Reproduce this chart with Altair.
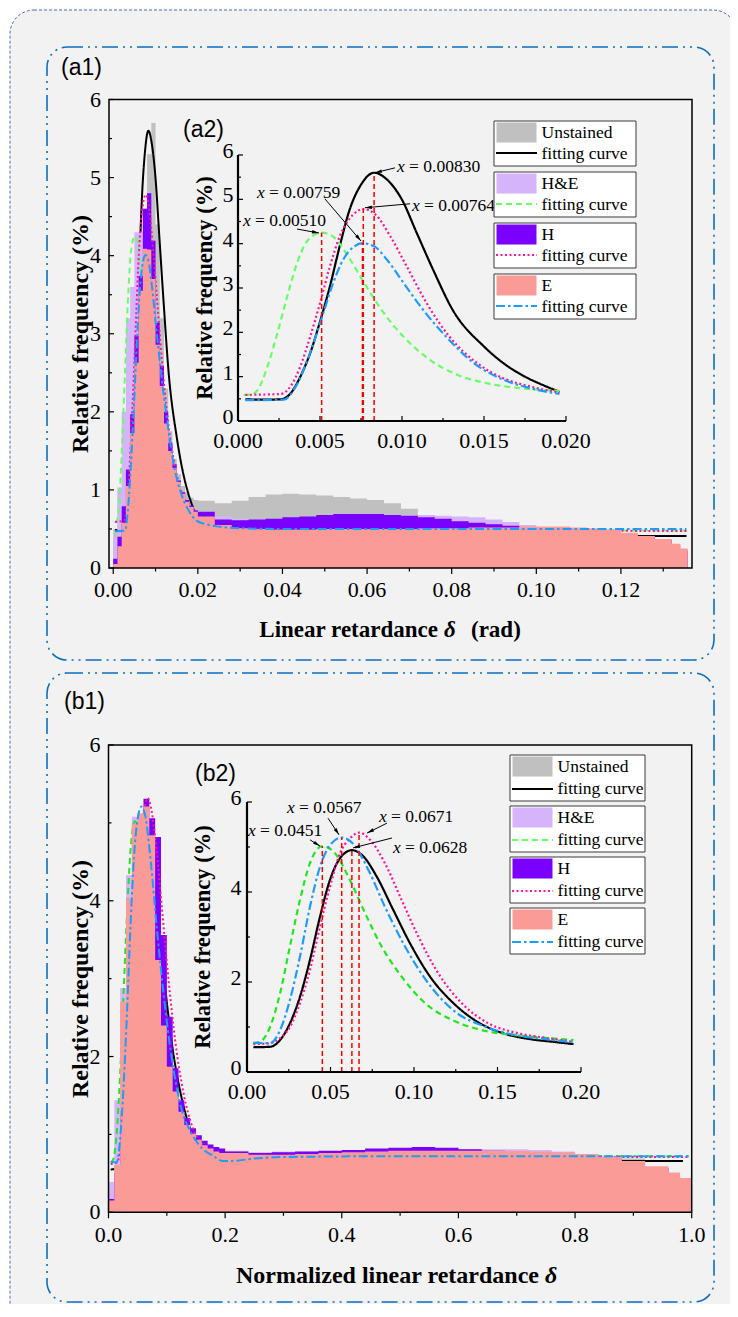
import math
import altair as alt
import pandas as pd

# ---------------- categories / styles ----------------
SERIES = ["Unstained", "H&E", "H", "E"]
HIST_COLORS = ["#c0c0c0", "#d6b4fb", "#7a00ff", "#fb9b97"]
FIT_COLORS_A = ["#000000", "#66ff66", "#ff1493", "#1e9bff"]
FIT_COLORS_B = ["#000000", "#1ee81e", "#ff1493", "#1e9bff"]
FIT_DASHES = [[1, 0], [6, 4], [2, 2.5], [9, 3, 2.5, 3]]

# ---------------- (a1) histograms: linear retardance (rad) ----------------
A_BIN_X = [0.000, 0.001, 0.002, 0.003, 0.004, 0.005, 0.006, 0.007, 0.008, 0.009,
           0.010, 0.011, 0.012, 0.013, 0.014, 0.015, 0.016, 0.017, 0.018, 0.019,
           0.020, 0.024, 0.028, 0.032, 0.036, 0.040, 0.044, 0.048, 0.052, 0.056,
           0.060, 0.064, 0.068, 0.072, 0.076, 0.080, 0.084, 0.088, 0.092, 0.096,
           0.100, 0.104, 0.108, 0.112, 0.116, 0.120, 0.124, 0.128, 0.132, 0.134]
A_BIN_END = 0.1358
A_UNST = [0.50, 1.00, 1.10, 1.35, 1.90, 2.70, 3.60, 4.60, 5.30, 5.70, 4.40, 3.20, 2.30, 1.75, 1.40, 1.20, 1.05, 0.97, 0.90, 0.87,
          0.86, 0.83, 0.86, 0.91, 0.94, 0.95, 0.94, 0.93, 0.91, 0.89, 0.87, 0.83, 0.76, 0.68, 0.62, 0.58, 0.55, 0.52, 0.50, 0.48,
          0.46, 0.44, 0.43, 0.42, 0.41, 0.40, 0.39, 0.36, 0.30, 0.22]
A_HE = [0.38, 1.03, 2.00, 3.20, 3.60, 4.30, 4.30, 3.90, 3.50, 3.10, 2.60, 2.20, 1.80, 1.50, 1.30, 1.10, 0.95, 0.85, 0.78, 0.74,
        0.72, 0.66, 0.63, 0.62, 0.62, 0.63, 0.64, 0.65, 0.66, 0.67, 0.67, 0.67, 0.68, 0.68, 0.67, 0.66, 0.65, 0.62, 0.59, 0.55,
        0.52, 0.50, 0.49, 0.48, 0.46, 0.44, 0.40, 0.36, 0.30, 0.22]
A_H = [0.12, 0.40, 0.79, 1.26, 1.97, 2.97, 3.74, 4.60, 4.80, 4.19, 3.14, 2.59, 2.00, 1.60, 1.33, 1.12, 0.97, 0.87, 0.80, 0.74,
       0.72, 0.62, 0.61, 0.62, 0.63, 0.65, 0.66, 0.68, 0.69, 0.69, 0.69, 0.68, 0.67, 0.65, 0.63, 0.60, 0.58, 0.56, 0.54, 0.52,
       0.50, 0.48, 0.47, 0.46, 0.45, 0.43, 0.40, 0.36, 0.30, 0.22]
A_E = [0.05, 0.28, 0.58, 1.05, 1.73, 2.63, 3.55, 4.09, 4.08, 3.70, 2.86, 2.33, 1.85, 1.50, 1.28, 1.10, 0.95, 0.85, 0.78, 0.72,
       0.66, 0.55, 0.51, 0.50, 0.49, 0.49, 0.49, 0.50, 0.50, 0.50, 0.50, 0.50, 0.50, 0.51, 0.51, 0.51, 0.52, 0.52, 0.52, 0.53,
       0.53, 0.53, 0.52, 0.51, 0.49, 0.45, 0.41, 0.37, 0.31, 0.25]

# ---------------- (a) fitting curves (peak part shown in a2, tail only in a1) ----------------
A_FIT_UNST_X = [0.00045, 0.0015, 0.0026, 0.0032, 0.0038, 0.0044, 0.0050, 0.0056, 0.0062, 0.0068, 0.0075,
                0.0083, 0.0091, 0.0100, 0.0109, 0.0119, 0.0131, 0.0150, 0.0162, 0.0175, 0.0186, 0.0196]
A_FIT_UNST_Y = [0.49, 0.48, 0.49, 0.62, 1.00, 1.53, 2.24, 3.03, 3.94, 4.76, 5.33,
                5.60, 5.44, 4.99, 4.24, 3.41, 2.50, 1.68, 1.30, 1.00, 0.81, 0.66]
A_FIT_UNST_TX = [0.021, 0.023, 0.025, 0.028, 0.033, 0.045, 0.090, 0.1355]
A_FIT_UNST_TY = [0.56, 0.49, 0.46, 0.44, 0.425, 0.42, 0.415, 0.41]

A_FIT_HE_X = [0.00035, 0.0008, 0.0012, 0.0018, 0.0024, 0.0030, 0.0036, 0.0042, 0.0051, 0.0058, 0.0066,
              0.0077, 0.0089, 0.0101, 0.0117, 0.0134, 0.0152, 0.0172, 0.0196]
A_FIT_HE_Y = [0.59, 0.60, 0.70, 1.23, 1.98, 2.81, 3.56, 4.05, 4.25, 4.16, 3.78,
              3.11, 2.43, 1.90, 1.38, 1.04, 0.85, 0.74, 0.68]
A_FIT_HE_TX = [0.022, 0.025, 0.030, 0.040, 0.060, 0.1355]
A_FIT_HE_TY = [0.63, 0.58, 0.53, 0.50, 0.485, 0.48]

A_FIT_H_X = [0.00045, 0.0026, 0.0032, 0.0038, 0.0044, 0.0050, 0.0056, 0.0062, 0.0070, 0.00764,
             0.0084, 0.0093, 0.0103, 0.0115, 0.0129, 0.0146, 0.0162, 0.0178, 0.0196]
A_FIT_H_Y = [0.59, 0.61, 0.78, 1.23, 1.90, 2.66, 3.48, 4.16, 4.65, 4.78,
             4.65, 4.16, 3.48, 2.66, 1.90, 1.30, 0.96, 0.78, 0.64]
A_FIT_H_TX = [0.022, 0.025, 0.030, 0.040, 0.060, 0.1355]
A_FIT_H_TY = [0.58, 0.54, 0.50, 0.485, 0.48, 0.475]

A_FIT_E_X = [0.00045, 0.0028, 0.0034, 0.0040, 0.0046, 0.0052, 0.0058, 0.0064, 0.0071, 0.00759,
             0.0083, 0.0091, 0.0101, 0.0113, 0.0127, 0.0144, 0.0162, 0.0178, 0.0196]
A_FIT_E_Y = [0.47, 0.48, 0.70, 1.15, 1.75, 2.43, 3.11, 3.63, 3.94, 4.01,
             3.94, 3.63, 3.11, 2.50, 1.90, 1.30, 0.93, 0.74, 0.61]
A_FIT_E_TX = [0.022, 0.025, 0.030, 0.040, 0.1355]
A_FIT_E_TY = [0.56, 0.53, 0.51, 0.50, 0.50]

# ---------------- (a2) peak annotations ----------------
A_PEAK_X = [0.00830, 0.00764, 0.00759, 0.00510]
A_PEAK_Y = [5.60, 4.78, 4.01, 4.25]
A_PEAK_LABEL = ["0.00830", "0.00764", "0.00759", "0.00510"]
A_LABEL_X = [0.00970, 0.01061, 0.00116, 0.00030]
A_LABEL_Y = [5.73, 4.85, 5.15, 4.51]
A_ARROW_X0 = [0.00957, 0.01049, 0.00530, 0.00360]
A_ARROW_Y0 = [5.71, 4.90, 5.01, 4.33]
A_ARROW_X1 = [0.00835, 0.00774, 0.00750, 0.00494]
A_ARROW_Y1 = [5.60, 4.81, 4.06, 4.24]

# ---------------- (b1) histograms: normalized linear retardance ----------------
B_BIN_X = [0.00, 0.01, 0.02, 0.03, 0.04, 0.05, 0.06, 0.07, 0.08, 0.09,
           0.10, 0.11, 0.12, 0.13, 0.14, 0.15, 0.16, 0.17, 0.18, 0.19,
           0.20, 0.24, 0.28, 0.32, 0.36, 0.40, 0.44, 0.48, 0.52, 0.56,
           0.60, 0.64, 0.68, 0.72, 0.76, 0.80, 0.84, 0.88, 0.92, 0.96, 0.98]
B_BIN_END = 1.0
B_UNST = [0.30, 0.60, 1.20, 2.40, 3.90, 4.70, 4.90, 4.60, 3.90, 3.10, 2.40, 1.80, 1.40, 1.15, 1.00, 0.90, 0.84, 0.80, 0.77, 0.75,
          0.74, 0.73, 0.73, 0.74, 0.75, 0.76, 0.76, 0.76, 0.76, 0.76, 0.75, 0.74, 0.73, 0.72, 0.71, 0.70, 0.69, 0.69, 0.57, 0.49, 0.42]
B_HE = [0.39, 1.44, 2.88, 4.33, 5.08, 5.10, 4.30, 3.50, 2.70, 2.10, 1.70, 1.40, 1.20, 1.05, 0.95, 0.88, 0.84, 0.81, 0.79, 0.78,
        0.79, 0.77, 0.78, 0.78, 0.78, 0.79, 0.80, 0.81, 0.81, 0.81, 0.81, 0.81, 0.81, 0.80, 0.78, 0.75, 0.70, 0.65, 0.58, 0.50, 0.43]
B_H = [0.17, 0.50, 1.30, 2.50, 3.60, 4.60, 5.31, 5.06, 4.82, 3.56, 2.51, 1.85, 1.44, 1.21, 1.08, 0.99, 0.92, 0.87, 0.84, 0.82,
       0.78, 0.76, 0.77, 0.78, 0.79, 0.80, 0.82, 0.83, 0.84, 0.83, 0.81, 0.79, 0.78, 0.76, 0.74, 0.72, 0.69, 0.64, 0.57, 0.49, 0.42]
B_E = [0.15, 0.61, 2.70, 4.03, 4.99, 5.12, 5.21, 4.84, 3.24, 2.40, 1.87, 1.55, 1.29, 1.12, 1.01, 0.93, 0.86, 0.82, 0.78, 0.76,
       0.76, 0.74, 0.74, 0.75, 0.76, 0.77, 0.78, 0.79, 0.79, 0.79, 0.79, 0.79, 0.79, 0.78, 0.77, 0.75, 0.71, 0.66, 0.59, 0.51, 0.44]

# ---------------- (b) fitting curves ----------------
B_FIT_UNST_X = [0.0038, 0.0138, 0.0198, 0.0257, 0.0317, 0.0377, 0.0437, 0.0497, 0.0557, 0.0628, 0.0697,
                0.0777, 0.0876, 0.0976, 0.1096, 0.1236, 0.1396, 0.1535, 0.1695, 0.1835, 0.1955]
B_FIT_UNST_Y = [0.55, 0.56, 0.71, 1.08, 1.67, 2.49, 3.45, 4.27, 4.75, 4.93, 4.79,
                4.34, 3.60, 2.86, 2.12, 1.53, 1.08, 0.86, 0.73, 0.67, 0.62]
B_FIT_UNST_TX = [0.21, 0.25, 0.30, 0.40, 0.60, 0.80, 0.985]
B_FIT_UNST_TY = [0.60, 0.61, 0.62, 0.64, 0.65, 0.66, 0.66]

B_FIT_HE_X = [0.0038, 0.0078, 0.0138, 0.0198, 0.0257, 0.0317, 0.0377, 0.0451, 0.0527, 0.0607,
              0.0707, 0.0806, 0.0926, 0.1066, 0.1226, 0.1406, 0.1605, 0.1785, 0.1955]
B_FIT_HE_Y = [0.64, 0.67, 1.00, 1.75, 2.79, 3.82, 4.64, 5.02, 4.86, 4.34,
              3.53, 2.79, 2.12, 1.53, 1.16, 0.93, 0.82, 0.76, 0.71]
B_FIT_HE_TX = [0.21, 0.25, 0.30, 0.50, 0.995]
B_FIT_HE_TY = [0.70, 0.71, 0.715, 0.72, 0.72]

B_FIT_H_X = [0.0038, 0.0138, 0.0198, 0.0257, 0.0317, 0.0377, 0.0437, 0.0497, 0.0557, 0.0617, 0.0671,
             0.0737, 0.0826, 0.0926, 0.1026, 0.1146, 0.1286, 0.1446, 0.1625, 0.1805, 0.1955]
B_FIT_H_Y = [0.62, 0.64, 0.75, 1.00, 1.53, 2.27, 3.23, 4.12, 4.86, 5.19, 5.32,
             5.16, 4.64, 3.82, 3.01, 2.19, 1.53, 1.08, 0.86, 0.75, 0.67]
B_FIT_H_TX = [0.21, 0.25, 0.30, 0.50, 0.995]
B_FIT_H_TY = [0.66, 0.69, 0.70, 0.71, 0.71]

B_FIT_E_X = [0.0038, 0.0138, 0.0198, 0.0257, 0.0317, 0.0377, 0.0437, 0.0497, 0.0567, 0.0633,
             0.0727, 0.0826, 0.0946, 0.1086, 0.1246, 0.1426, 0.1605, 0.1785, 0.1955]
B_FIT_E_Y = [0.65, 0.64, 0.93, 1.60, 2.56, 3.67, 4.56, 5.04, 5.21, 5.08,
             4.49, 3.67, 2.79, 1.97, 1.34, 1.01, 0.82, 0.73, 0.66]
B_FIT_E_TX = [0.21, 0.25, 0.30, 0.50, 0.995]
B_FIT_E_TY = [0.66, 0.69, 0.71, 0.72, 0.72]

# ---------------- (b2) peak annotations ----------------
B_PEAK_X = [0.0451, 0.0567, 0.0671, 0.0628]
B_PEAK_Y = [5.02, 5.21, 5.32, 4.93]
B_PEAK_LABEL = ["0.0451", "0.0567", "0.0671", "0.0628"]
B_LABEL_X = [0.0006, 0.0240, 0.0790, 0.0874]
B_LABEL_Y = [5.36, 5.87, 5.67, 4.98]
B_ARROW_X0 = [0.0377, 0.0485, 0.0838, 0.0868]
B_ARROW_Y0 = [5.16, 5.64, 5.53, 5.20]
B_ARROW_X1 = [0.0437, 0.0551, 0.0719, 0.0635]
B_ARROW_Y1 = [5.02, 5.27, 5.31, 4.98]

# ---------------- tick labels ----------------
A1_X_MAJOR = [0.00, 0.02, 0.04, 0.06, 0.08, 0.10, 0.12]
A1_X_MINOR = [0.01, 0.03, 0.05, 0.07, 0.09, 0.11, 0.13]
A_Y_MAJOR = [0, 1, 2, 3, 4, 5, 6]
A_Y_MINOR = [0.5, 1.5, 2.5, 3.5, 4.5, 5.5]
A2_X_MAJOR = [0.000, 0.005, 0.010, 0.015, 0.020]
A2_X_MINOR = [0.0025, 0.0075, 0.0125, 0.0175]
B1_X_MAJOR = [0.0, 0.2, 0.4, 0.6, 0.8, 1.0]
B1_X_MINOR = [0.1, 0.3, 0.5, 0.7, 0.9]
B_Y_MAJOR = [0, 2, 4, 6]
B_Y_MINOR = [1, 3, 5]
B2_X_MAJOR = [0.00, 0.05, 0.10, 0.15, 0.20]
B2_X_MINOR = [0.025, 0.075, 0.125, 0.175]
Y_TITLE = "Relative frequency (%)"

# ---------------- layout (page pixels; chart origin is at page 8,8) ----------------
W, H = 722, 1296
SERIF = "Liberation Serif"
SANS = "Liberation Sans"


def px(v):
    return v - 8


def py(v):
    return v - 8


ONE = pd.DataFrame({"k": [0]})


def mapper(dom, rng):
    d0, d1 = dom
    r0, r1 = rng
    return lambda v: r0 + (v - d0) / (d1 - d0) * (r1 - r0)


def step_df(xs, ys, end):
    assert len(xs) == len(ys)
    return pd.DataFrame({"x": list(xs) + [end], "y": list(ys) + [ys[-1]]})


def tick_rules(vals, scale, horizontal, at, length, width=1.2):
    df = pd.DataFrame({"v": vals})
    m = alt.Chart(df).mark_rule(color="black", strokeWidth=width)
    if horizontal:  # x ticks
        return m.encode(x=alt.X("v:Q", scale=scale, axis=None), y=alt.value(at), y2=alt.value(at + length))
    return m.encode(y=alt.Y("v:Q", scale=scale, axis=None), x=alt.value(at), x2=alt.value(at + length))


def x_labels(vals, fmt, scale, y_top, size=22):
    df = pd.DataFrame({"v": vals, "t": [format(v, fmt) for v in vals]})
    return alt.Chart(df).mark_text(font=SERIF, fontSize=size, align="center", baseline="top",
                                   color="black").encode(
        x=alt.X("v:Q", scale=scale, axis=None), y=alt.value(y_top), text="t:N")


def y_labels(vals, scale, x_right, size=22, dy=0):
    df = pd.DataFrame({"v": vals, "t": [str(v) for v in vals]})
    return alt.Chart(df).mark_text(font=SERIF, fontSize=size, align="right", baseline="middle",
                                   dy=dy, color="black").encode(
        y=alt.Y("v:Q", scale=scale, axis=None), x=alt.value(x_right), text="t:N")


def y_title(x, y, size):
    return alt.Chart(ONE).mark_text(text=Y_TITLE, font=SERIF, fontSize=size, fontWeight="bold",
                                    angle=270, align="center", baseline="middle", color="black").encode(
        x=alt.value(px(x)), y=alt.value(py(y)))


def main_panel(bin_x, bin_end, hists, fits, fit_colors, xd, xr, yd, yr,
               x_major, x_minor, y_major, y_minor, x_fmt, xlab_top, ytitle_x, ytitle_y):
    xs = alt.Scale(domain=xd, range=xr, nice=False, zero=False)
    ys = alt.Scale(domain=yd, range=yr, nice=False, zero=False)
    layers = []
    for hy, fit, hc, fc, dash in zip(hists, fits, HIST_COLORS, fit_colors, FIT_DASHES):
        layers.append(alt.Chart(step_df(bin_x, hy, bin_end)).mark_area(
            interpolate="step-after", color=hc, opacity=1).encode(
            x=alt.X("x:Q", scale=xs, axis=None),
            y=alt.Y("y:Q", scale=ys, axis=None, stack=False)))
        fx, fy, tx, ty = fit
        layers.append(alt.Chart(pd.DataFrame({"x": list(fx) + list(tx), "y": list(fy) + list(ty)})).mark_line(
            color=fc, strokeDash=dash, strokeWidth=2, interpolate="monotone").encode(
            x=alt.X("x:Q", scale=xs, axis=None), y=alt.Y("y:Q", scale=ys, axis=None)))
    x0, y0 = xr[0], yr[0]
    layers.append(tick_rules(x_major, xs, True, y0, 6))
    layers.append(tick_rules(x_minor, xs, True, y0, 3.5))
    layers.append(tick_rules(y_major, ys, False, x0, 5))
    layers.append(tick_rules(y_minor, ys, False, x0, 3))
    layers.append(x_labels(x_major, x_fmt, xs, py(xlab_top)))
    layers.append(y_labels(y_major, ys, x0 - 8))
    layers.append(y_title(ytitle_x, ytitle_y, 24))
    frame = pd.DataFrame({"x0": [xd[0]], "x1": [xd[1]], "y0": [yd[0]], "y1": [yd[1]]})
    layers.append(alt.Chart(frame).mark_rect(fill="transparent", stroke="black", strokeWidth=1.5).encode(
        x=alt.X("x0:Q", scale=xs, axis=None), x2="x1:Q",
        y=alt.Y("y0:Q", scale=ys, axis=None), y2="y1:Q"))
    return alt.layer(*layers)


def inset_panel(fits, fit_colors, xd, xr, yd, yr, x_major, x_minor, y_major, y_minor,
                x_fmt, xlab_top, ylab_right, ytitle_x, ytitle_y, ann):
    xs = alt.Scale(domain=xd, range=xr, nice=False, zero=False)
    ys = alt.Scale(domain=yd, range=yr, nice=False, zero=False)
    fxm, fym = mapper(xd, xr), mapper(yd, yr)
    layers = []
    for fit, fc, dash in zip(fits, fit_colors, FIT_DASHES):
        layers.append(alt.Chart(pd.DataFrame({"x": fit[0], "y": fit[1]})).mark_line(
            color=fc, strokeDash=dash, strokeWidth=2.2, interpolate="monotone").encode(
            x=alt.X("x:Q", scale=xs, axis=None), y=alt.Y("y:Q", scale=ys, axis=None)))
    pk_x, pk_y, labs, lx, ly, ax0, ay0, ax1, ay1 = ann
    n = len(pk_x)
    layers.append(alt.Chart(pd.DataFrame({"x": pk_x, "y0": [0] * n, "y1": pk_y})).mark_rule(
        color="#ff0000", strokeDash=[5, 3], strokeWidth=1.5).encode(
        x=alt.X("x:Q", scale=xs, axis=None), y=alt.Y("y0:Q", scale=ys, axis=None), y2="y1:Q"))
    angs = []
    for a, b, c, d in zip(ax0, ay0, ax1, ay1):
        dxp = fxm(c) - fxm(a)
        dyp = fym(d) - fym(b)
        angs.append(math.degrees(math.atan2(dxp, -dyp)) % 360)
    arr = pd.DataFrame({"x0": ax0, "y0": ay0, "x1": ax1, "y1": ay1, "ang": angs})
    layers.append(alt.Chart(arr).mark_rule(color="black", strokeWidth=1).encode(
        x=alt.X("x0:Q", scale=xs, axis=None), y=alt.Y("y0:Q", scale=ys, axis=None),
        x2="x1:Q", y2="y1:Q"))
    layers.append(alt.Chart(arr).mark_point(shape="M0,0L-0.5,2L0.5,2Z", filled=True, size=49,
                                            color="black", opacity=1).encode(
        x=alt.X("x1:Q", scale=xs, axis=None), y=alt.Y("y1:Q", scale=ys, axis=None),
        angle=alt.Angle("ang:Q", scale=None)))
    lab = pd.DataFrame({"lx": lx, "ly": ly, "eq": ["= " + s for s in labs]})
    layers.append(alt.Chart(lab).mark_text(text="x", font=SERIF, fontSize=17.5, fontStyle="italic",
                                           align="left", baseline="middle", color="black").encode(
        x=alt.X("lx:Q", scale=xs, axis=None), y=alt.Y("ly:Q", scale=ys, axis=None)))
    layers.append(alt.Chart(lab).mark_text(font=SERIF, fontSize=17.5, align="left", baseline="middle",
                                           dx=12, color="black").encode(
        x=alt.X("lx:Q", scale=xs, axis=None), y=alt.Y("ly:Q", scale=ys, axis=None), text="eq:N"))
    # axis lines (left and bottom) through the inset scales
    ax = pd.DataFrame({"a": [xd[0]], "b": [xd[1]], "c": [yd[0]], "d": [yd[1]]})
    layers.append(alt.Chart(ax).mark_rule(color="black", strokeWidth=2.2).encode(
        x=alt.X("a:Q", scale=xs, axis=None), x2="b:Q", y=alt.Y("c:Q", scale=ys, axis=None)))
    layers.append(alt.Chart(ax).mark_rule(color="black", strokeWidth=2.2).encode(
        x=alt.X("a:Q", scale=xs, axis=None), y=alt.Y("c:Q", scale=ys, axis=None), y2="d:Q"))
    x0, y0 = xr[0], yr[0]
    layers.append(tick_rules(x_major, xs, True, y0, -5))
    layers.append(tick_rules(x_minor, xs, True, y0, -3))
    layers.append(tick_rules(y_major, ys, False, x0, 5))
    layers.append(tick_rules(y_minor, ys, False, x0, 3))
    layers.append(x_labels(x_major, x_fmt, xs, py(xlab_top)))
    layers.append(y_labels(y_major, ys, px(ylab_right), dy=-4))
    layers.append(y_title(ytitle_x, ytitle_y, 22.5))
    return alt.layer(*layers)


def legend(left, top0, step, box_h, box_w, line_y, t1_y, t2_y, line_colors):
    rows = []
    for i, s in enumerate(SERIES):
        t = top0 + i * step
        rows.append(dict(series=s, top=py(t), bot=py(t + box_h), st=py(t + 1.5), sb=py(t + 21.5),
                         ly=py(t + line_y), t1=py(t + t1_y), t2=py(t + t2_y)))
    df = pd.DataFrame(rows)
    box = alt.Chart(df).mark_rect(fill="white", stroke="#3a3a3a", strokeWidth=1).encode(
        x=alt.value(px(left)), x2=alt.value(px(left + box_w)),
        y=alt.Y("top:Q", scale=None), y2="bot:Q")
    sw = alt.Chart(df).mark_rect().encode(
        x=alt.value(px(left + 2.5)), x2=alt.value(px(left + 42.5)),
        y=alt.Y("st:Q", scale=None), y2="sb:Q",
        fill=alt.Fill("series:N", scale=alt.Scale(domain=SERIES, range=HIST_COLORS), legend=None))
    ln = alt.Chart(df).mark_rule(strokeWidth=2).encode(
        x=alt.value(px(left + 2)), x2=alt.value(px(left + 43)),
        y=alt.Y("ly:Q", scale=None),
        stroke=alt.Stroke("series:N", scale=alt.Scale(domain=SERIES, range=line_colors), legend=None),
        strokeDash=alt.StrokeDash("series:N", scale=alt.Scale(domain=SERIES, range=FIT_DASHES), legend=None))
    t1 = alt.Chart(df).mark_text(font=SERIF, fontSize=17.5, align="left", baseline="middle", color="black").encode(
        x=alt.value(px(left + 47.5)), y=alt.Y("t1:Q", scale=None), text="series:N")
    t2 = alt.Chart(df).mark_text(text="fitting curve", font=SERIF, fontSize=17.5, align="left",
                                 baseline="middle", color="black").encode(
        x=alt.value(px(left + 47.5)), y=alt.Y("t2:Q", scale=None))
    return [box, sw, ln, t1, t2]


def text_mark(txt, x, y, size, font=SERIF, weight="normal", style="normal", align="left"):
    return alt.Chart(ONE).mark_text(text=txt, font=font, fontSize=size, fontWeight=weight,
                                    fontStyle=style, align=align, baseline="middle", color="black").encode(
        x=alt.value(px(x)), y=alt.value(py(y)))


def frame_rect(x0, y0, x1, y1, **kw):
    return alt.Chart(ONE).mark_rect(**kw).encode(
        x=alt.value(px(x0)), x2=alt.value(px(x1)), y=alt.value(py(y0)), y2=alt.value(py(y1)))


# ---------------- build ----------------
outer = frame_rect(10, 10, 737, 1345, fill="#f2f2f2", stroke="#4f73b3", strokeWidth=1,
                   strokeDash=[3, 2], cornerRadius=24)
panel_a = frame_rect(47, 47, 714, 660, fill="transparent", stroke="#0a6fc2", strokeWidth=1.6,
                     strokeDash=[16, 5, 2, 5, 2, 5], cornerRadius=20)
panel_b = frame_rect(47, 673, 714, 1302, fill="transparent", stroke="#0a6fc2", strokeWidth=1.6,
                     strokeDash=[16, 5, 2, 5, 2, 5], cornerRadius=20)

a1 = main_panel(
    A_BIN_X, A_BIN_END, [A_UNST, A_HE, A_H, A_E],
    [(A_FIT_UNST_X, A_FIT_UNST_Y, A_FIT_UNST_TX, A_FIT_UNST_TY),
     (A_FIT_HE_X, A_FIT_HE_Y, A_FIT_HE_TX, A_FIT_HE_TY),
     (A_FIT_H_X, A_FIT_H_Y, A_FIT_H_TX, A_FIT_H_TY),
     (A_FIT_E_X, A_FIT_E_Y, A_FIT_E_TX, A_FIT_E_TY)],
    FIT_COLORS_A, [-0.001, 0.1368], [px(109), px(692)], [0, 6], [py(568), py(99.5)],
    A1_X_MAJOR, A1_X_MINOR, A_Y_MAJOR, A_Y_MINOR, ".2f", 580, 81, 334)

a2 = inset_panel(
    [(A_FIT_UNST_X, A_FIT_UNST_Y), (A_FIT_HE_X, A_FIT_HE_Y), (A_FIT_H_X, A_FIT_H_Y), (A_FIT_E_X, A_FIT_E_Y)],
    FIT_COLORS_A, [0, 0.02], [px(238), px(566)], [0, 6], [py(421), py(155)],
    A2_X_MAJOR, A2_X_MINOR, A_Y_MAJOR, A_Y_MINOR, ".3f", 431, 233.5, 205, 288,
    (A_PEAK_X, A_PEAK_Y, A_PEAK_LABEL, A_LABEL_X, A_LABEL_Y, A_ARROW_X0, A_ARROW_Y0, A_ARROW_X1, A_ARROW_Y1))

b1 = main_panel(
    B_BIN_X, B_BIN_END, [B_UNST, B_HE, B_H, B_E],
    [(B_FIT_UNST_X, B_FIT_UNST_Y, B_FIT_UNST_TX, B_FIT_UNST_TY),
     (B_FIT_HE_X, B_FIT_HE_Y, B_FIT_HE_TX, B_FIT_HE_TY),
     (B_FIT_H_X, B_FIT_H_Y, B_FIT_H_TX, B_FIT_H_TY),
     (B_FIT_E_X, B_FIT_E_Y, B_FIT_E_TX, B_FIT_E_TY)],
    FIT_COLORS_B, [0, 1], [px(108.5), px(691.7)], [0, 6], [py(1212.3), py(745)],
    B1_X_MAJOR, B1_X_MINOR, B_Y_MAJOR, B_Y_MINOR, ".1f", 1225, 81, 979)

b2 = inset_panel(
    [(B_FIT_UNST_X, B_FIT_UNST_Y), (B_FIT_HE_X, B_FIT_HE_Y), (B_FIT_H_X, B_FIT_H_Y), (B_FIT_E_X, B_FIT_E_Y)],
    FIT_COLORS_B, [0, 0.2], [px(247), px(581)], [0, 6], [py(1072), py(802)],
    B2_X_MAJOR, B2_X_MINOR, B_Y_MAJOR, B_Y_MINOR, ".2f", 1082, 241.5, 203, 937,
    (B_PEAK_X, B_PEAK_Y, B_PEAK_LABEL, B_LABEL_X, B_LABEL_Y, B_ARROW_X0, B_ARROW_Y0, B_ARROW_X1, B_ARROW_Y1))

leg_a = legend(494, 121, 51, 45, 142, 32, 12, 33, FIT_COLORS_A)
leg_b = legend(510, 755, 51, 46, 135, 34, 12, 34, FIT_COLORS_B)

texts = [
    text_mark("(a1)", 61, 68, 23, font=SANS),
    text_mark("(a2)", 183, 130, 23, font=SANS),
    text_mark("(b1)", 64, 702, 23, font=SANS),
    text_mark("(b2)", 195, 774, 23, font=SANS),
    text_mark("Linear retardance", 438, 630, 23, weight="bold", align="right"),
    text_mark("δ", 444, 630, 23, weight="bold", style="italic"),
    text_mark("(rad)", 471, 630, 23, weight="bold"),
    text_mark("Normalized linear retardance", 539, 1276, 24, weight="bold", align="right"),
    text_mark("δ", 545, 1276, 24, weight="bold", style="italic"),
]

chart = alt.layer(
    outer, panel_a, panel_b, a1, a2, *leg_a, b1, b2, *leg_b, *texts
).resolve_scale(
    x="independent", y="independent"
).properties(
    width=W, height=H, padding=0, autosize="none", background="white"
).configure_view(stroke="transparent")

chart.save("out.html", embed_options={"renderer": "svg", "actions": False})
